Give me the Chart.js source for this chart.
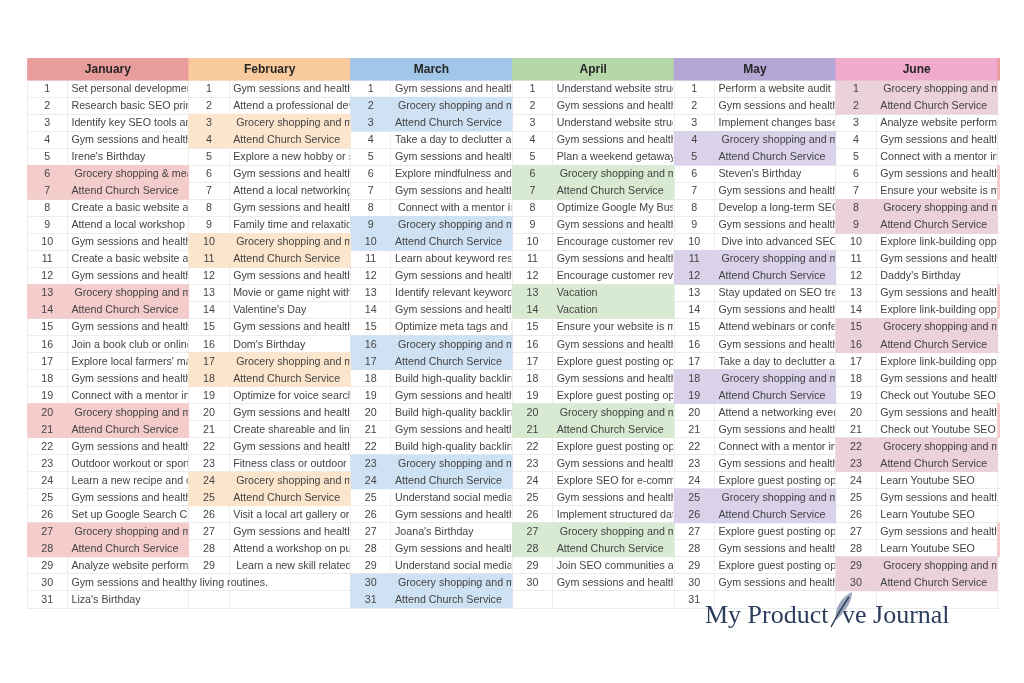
<!DOCTYPE html>
<html>
<head>
<meta charset="utf-8">
<script src="https://cdn.jsdelivr.net/npm/chart.js@4.4.1/dist/chart.umd.min.js"></script>
<style>
  html, body { margin: 0; padding: 0; background: #ffffff; }
  #wrap { width: 1024px; height: 683px; position: relative; }
</style>
</head>
<body>
<div id="wrap"><canvas id="plannerChart"></canvas></div>
<script>
const GYM = 'Gym sessions and healthy living routines.';
const GROCERY = ' Grocery shopping and meal prep';
const CHURCH = 'Attend Church Service';
const GUEST = 'Explore guest posting opportunities';
const LINKS = 'Explore link-building opportunities';
const BACKLINKS = 'Build high-quality backlinks';

const months = ['January', 'February', 'March', 'April', 'May', 'June'];
const daysInMonth = [31, 29, 31, 30, 31, 30];

const januaryTasks = ['Set personal development goals', 'Research basic SEO principles', 'Identify key SEO tools and resources', GYM,
  "Irene's Birthday", ' Grocery shopping & meal prep', CHURCH, 'Create a basic website and blog', 'Attend a local workshop or event', GYM,
  'Create a basic website and blog', GYM, GROCERY, CHURCH, GYM, 'Join a book club or online community', "Explore local farmers' markets",
  GYM, 'Connect with a mentor in your field', GROCERY, CHURCH, GYM, 'Outdoor workout or sports activity', 'Learn a new recipe and cook',
  GYM, 'Set up Google Search Console', GROCERY, CHURCH, 'Analyze website performance', GYM, "Liza's Birthday"];
const februaryTasks = [GYM, 'Attend a professional development seminar', GROCERY, CHURCH, 'Explore a new hobby or skill', GYM,
  'Attend a local networking event', GYM, 'Family time and relaxation', GROCERY, CHURCH, GYM, 'Movie or game night with friends',
  "Valentine's Day", GYM, "Dom's Birthday", GROCERY, CHURCH, 'Optimize for voice search', GYM, 'Create shareable and linkable content',
  GYM, 'Fitness class or outdoor walk', GROCERY, CHURCH, 'Visit a local art gallery or museum', GYM, 'Attend a workshop on public speaking',
  ' Learn a new skill related to SEO'];
const marchTasks = [GYM, GROCERY, CHURCH, 'Take a day to declutter and organize', GYM, 'Explore mindfulness and meditation', GYM,
  ' Connect with a mentor in SEO', GROCERY, CHURCH, 'Learn about keyword research', GYM, 'Identify relevant keywords', GYM,
  'Optimize meta tags and headings', GROCERY, CHURCH, BACKLINKS, GYM, BACKLINKS, GYM, BACKLINKS, GROCERY, CHURCH,
  "Understand social media's role in SEO", GYM, "Joana's Birthday", GYM, "Understand social media's role in SEO", GROCERY, CHURCH];
const aprilTasks = ['Understand website structure', GYM, 'Understand website structure', GYM, 'Plan a weekend getaway', GROCERY, CHURCH,
  'Optimize Google My Business', GYM, 'Encourage customer reviews', GYM, 'Encourage customer reviews', 'Vacation', 'Vacation',
  'Ensure your website is mobile-friendly', GYM, GUEST, GYM, GUEST, GROCERY, CHURCH, GUEST, GYM, 'Explore SEO for e-commerce', GYM,
  'Implement structured data', GROCERY, CHURCH, 'Join SEO communities and forums', GYM];
const mayTasks = ['Perform a website audit', GYM, 'Implement changes based on audit', GROCERY, CHURCH, "Steven's Birthday", GYM,
  'Develop a long-term SEO strategy', GYM, ' Dive into advanced SEO techniques', GROCERY, CHURCH, 'Stay updated on SEO trends', GYM,
  'Attend webinars or conferences', GYM, 'Take a day to declutter and organize', GROCERY, CHURCH, 'Attend a networking event', GYM,
  'Connect with a mentor in SEO', GYM, GUEST, GROCERY, CHURCH, GUEST, GYM, GUEST, GYM, ''];
const juneTasks = [GROCERY, CHURCH, 'Analyze website performance', GYM, 'Connect with a mentor in SEO', GYM,
  'Ensure your website is mobile-friendly', GROCERY, CHURCH, LINKS, GYM, "Daddy's Birthday", GYM, LINKS, GROCERY, CHURCH, LINKS, GYM,
  'Check out Youtube SEO', GYM, 'Check out Youtube SEO', GROCERY, CHURCH, 'Learn Youtube SEO', GYM, 'Learn Youtube SEO', GYM,
  'Learn Youtube SEO', GROCERY, CHURCH];
const monthTasks = [januaryTasks, februaryTasks, marchTasks, aprilTasks, mayTasks, juneTasks];

// highlighted (coloured) days per month; the last list is the cut-off July column at the right edge
const januaryHighlights = [6, 7, 13, 14, 20, 21, 27, 28];
const februaryHighlights = [3, 4, 10, 11, 17, 18, 24, 25];
const marchHighlights = [2, 3, 9, 10, 16, 17, 23, 24, 30, 31];
const aprilHighlights = [6, 7, 13, 14, 20, 21, 27, 28];
const mayHighlights = [4, 5, 11, 12, 18, 19, 25, 26];
const juneHighlights = [1, 2, 8, 9, 15, 16, 22, 23, 29, 30];
const julyHighlights = [6, 7, 13, 14, 20, 21, 27, 28];
const monthHighlights = [januaryHighlights, februaryHighlights, marchHighlights, aprilHighlights, mayHighlights, juneHighlights, julyHighlights];

const headerColors = ['#e99c9c', '#f9cb9c', '#a2c6e8', '#b6d7a8', '#b4a7d6', '#f0aacb', '#e99c9c'];
const lightColors = ['#f4cccc', '#fce5cd', '#cfe2f3', '#d9ead3', '#d9d2e9', '#ead1dc', '#f4cccc'];

const NUM_PART = 0.25;   // share of a month block used by the day-number column
const HEADER_Y = -0.65;
const TOP_Y = -1.3;
const LAST_ROW = 31;
const X_MAX = 6.015;

const datasets = [];
datasets.push({
  label: 'headers',
  data: headerColors.map((c, i) => ({ x: [i, i + 1], y: HEADER_Y })),
  backgroundColor: headerColors,
  barThickness: 22,
  grouped: false
});
monthHighlights.forEach((days, i) => {
  datasets.push({
    label: 'highlight ' + i,
    data: days.map(d => ({ x: [i, i + 1], y: d - 0.5 })),
    backgroundColor: lightColors[i],
    barPercentage: 1,
    categoryPercentage: 1,
    grouped: false
  });
});

const rowTicks = [TOP_Y];
for (let r = 0; r <= LAST_ROW; r++) rowTicks.push(r);
const colTicks = [];
for (let m = 0; m <= months.length; m++) { colTicks.push(m); colTicks.push(m + NUM_PART); }

const cellText = {
  id: 'cellText',
  afterDraw(chart) {
    const { ctx, scales: { x, y }, chartArea } = chart;
    ctx.save();
    ctx.textBaseline = 'middle';

    months.forEach((name, i) => {
      ctx.font = 'bold 12px "Liberation Sans", Arial, sans-serif';
      ctx.fillStyle = '#262626';
      ctx.textAlign = 'center';
      ctx.fillText(name, x.getPixelForValue(i + 0.5), y.getPixelForValue(HEADER_Y) + 1);

      const tasks = monthTasks[i];
      for (let r = 1; r <= daysInMonth[i]; r++) {
        const yc = y.getPixelForValue(r - 0.5) + 0.5;
        ctx.font = '10.7px "Liberation Sans", Arial, sans-serif';
        ctx.fillStyle = '#444444';
        ctx.textAlign = 'center';
        ctx.fillText(String(r), x.getPixelForValue(i + NUM_PART / 2), yc);

        const txt = tasks[r - 1];
        if (!txt) continue;
        let clipEnd = i + 1;
        for (let j = i + 1; j < months.length; j++) {
          if (r > daysInMonth[j]) clipEnd = j + 1; else break;
        }
        const x0 = x.getPixelForValue(i + NUM_PART);
        const x1 = Math.min(x.getPixelForValue(clipEnd), chartArea.right);
        const top = y.getPixelForValue(r - 1);
        const bottom = y.getPixelForValue(r);
        ctx.save();
        ctx.beginPath();
        ctx.rect(x0, top, x1 - x0 - 1, bottom - top);
        ctx.clip();
        ctx.textAlign = 'left';
        ctx.fillText(txt, x0 + 4, yc);
        ctx.restore();
      }
    });

    // logo text
    ctx.fillStyle = '#2d3e5c';
    ctx.font = '26px "Liberation Serif", "Times New Roman", serif';
    ctx.textAlign = 'left';
    ctx.textBaseline = 'alphabetic';
    ctx.fillText('My Product', 705, 623);
    ctx.fillText('ve Journal', 842, 623);
    // feather standing in for the "i"
    ctx.fillStyle = '#9aa6ba';
    ctx.beginPath();
    ctx.moveTo(852, 592);
    ctx.bezierCurveTo(852, 602, 845, 612, 836, 620);
    ctx.bezierCurveTo(834, 610, 840, 598, 852, 592);
    ctx.fill();
    ctx.strokeStyle = '#2d3e5c';
    ctx.lineWidth = 1.4;
    ctx.beginPath();
    ctx.moveTo(849, 597);
    ctx.quadraticCurveTo(840, 610, 831, 627);
    ctx.stroke();
    ctx.restore();
  }
};

new Chart(document.getElementById('plannerChart'), {
  type: 'bar',
  data: { datasets: datasets },
  options: {
    indexAxis: 'y',
    responsive: true,
    maintainAspectRatio: false,
    animation: false,
    layout: { padding: { left: 27, right: 24, top: 58, bottom: 75 } },
    plugins: { legend: { display: false }, tooltip: { enabled: false } },
    scales: {
      x: {
        type: 'linear',
        min: 0,
        max: X_MAX,
        offset: false,
        afterBuildTicks: s => { s.ticks = colTicks.map(v => ({ value: v })); },
        ticks: { display: false },
        grid: { color: '#eeeeee', drawTicks: false, offset: false },
        border: { display: false }
      },
      y: {
        type: 'linear',
        reverse: true,
        min: TOP_Y,
        max: LAST_ROW,
        offset: false,
        z: 1,
        afterBuildTicks: s => { s.ticks = rowTicks.map(v => ({ value: v })); },
        ticks: { display: false },
        grid: { color: '#ececec', drawTicks: false, offset: false },
        border: { display: false }
      }
    }
  },
  plugins: [cellText]
});
</script>
</body>
</html>
